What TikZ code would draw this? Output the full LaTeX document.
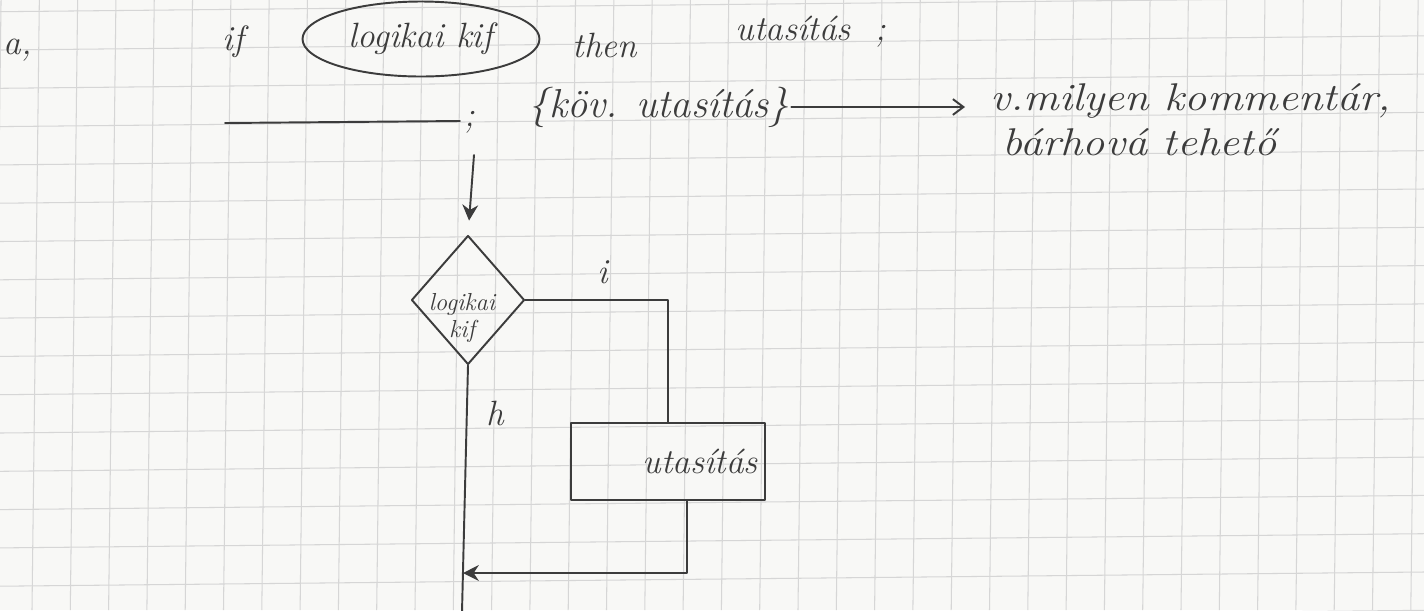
\documentclass[tikz,border=0pt]{standalone}
\usepackage{fontspec}
\usepackage{graphicx}
\usetikzlibrary{shapes.geometric,arrows.meta,calc}
\definecolor{paper}{HTML}{F8F8F6}
\definecolor{gridc}{HTML}{D6D6D6}
\definecolor{ink}{HTML}{3C3C3C}
\tikzset{
  pen/.style={draw=ink, line width=1.1pt, line cap=round, line join=round},
  gridline/.style={draw=gridc, line width=0.6pt},
  hand/.style={text=ink, font=\fontsize{20}{24}\selectfont\itshape, inner sep=1pt},
  comm/.style={text=ink, font=\fontsize{22}{26}\selectfont\itshape, inner sep=0pt},
  smallhand/.style={text=ink, font=\fontsize{14}{15}\selectfont\itshape, inner sep=0pt, align=center},
  fillhead/.style={-{Stealth[length=9pt,width=9pt]}},
  openhead/.style={-{Straight Barb[length=6pt,width=9pt]}}
}
\begin{document}
\begin{tikzpicture}[x=0.02cm,y=-0.02cm]
\useasboundingbox (0,0) rectangle (1424,610);
\fill[paper] (0,0) rectangle (1424,610);
\begin{scope}
\clip (0,0) rectangle (1424,610);
\foreach \k in {0,...,16} { \draw[gridline] (0,{11.7+38.3*\k}) -- (1424,{11.7+38.3*\k-14.2}); }
\foreach \k in {-1,...,37} { \draw[gridline] ({38.5+38.3*\k+0.84},0) -- ({38.5+38.3*\k-6.5},610); }
\end{scope}

% first line
\node[hand] (a) at (18,50) {a,};
\node[hand] (if) at (233,42) {if};
\node[hand, pen, ellipse, minimum width=4.74cm, minimum height=1.5cm] (cond) at (421,39) {logikai kif};
\node[hand] (then) at (605,45) {then};
\node[hand] (stmt) at (811,32) {utasítás\ \ ;};

% second line
\coordinate (u1) at (225,123);
\coordinate (u2) at (460,121);
\draw[pen] (u1) -- (u2);
\node[hand] (semi) at (470,122) {;};
\node[hand, font=\fontsize{23}{26}\selectfont\itshape] (next) at (659,107) {\{köv. utasítás\}};
\node[comm, anchor=west] (c1) at (990,101) {\scalebox{1.15}[1]{v.milyen kommentár,}};
\node[comm, anchor=west] (c2) at (1002,142) {\scalebox{1.15}[1]{bárhová tehető}};
\draw[pen, openhead, shorten >=0.5cm] (next.east) -- (next.east -| c1.west);

% flowchart
\coordinate (s) at (474,155);
\node[pen, diamond, minimum width=2.26cm, minimum height=2.58cm, inner sep=0pt] (dia) at (468,300) {};
\node[smallhand] (diatext) at (462,318) {logikai\\kif};
\draw[pen, fillhead, shorten >=0.28cm] (s) -- (dia.north);

\node[hand, pen, rectangle, minimum width=3.88cm, minimum height=1.54cm, text width=3.6cm, inner xsep=0.14cm, align=right] (box) at (668,461.5) {utasítás};

\node[hand] (i) at (603,272) {i};
\node[hand] (h) at (495,413) {h};

\draw[pen] (dia.east) -| (box.north);
\coordinate (m) at (463,573);
\coordinate (bot) at (462,612);
\draw[pen] (dia.south) -- (bot);
\draw[pen, fillhead] ($(box.south)+(19,0)$) |- (m);
\end{tikzpicture}
\end{document}
